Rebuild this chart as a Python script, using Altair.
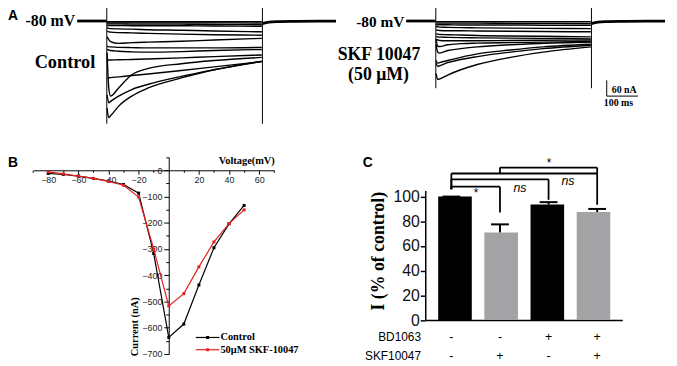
import altair as alt
import pandas as pd

# ---------------- Panel A: current traces (time in ms, current in nA) ----------------
T_STEP = [96, 101, 107, 133, 175, 228, 334, 439, 592]
STEP_ON = 95
STEP_OFF = 594
PRE_T = [0, 95]
PRE_I = [0, 0]
POST_T = [594, 603, 615, 640, 700, 830]
POST_I = [-10, -7, -4, -2, -1, 0]
TRANSIENT_TOP = 56
CONTROL_TRANSIENT_BOTTOM = -390
SKF_TRANSIENT_BOTTOM = -255

CONTROL_TRACES = [
    [-3, -3, -3, -3, -3, -3, -3, -3, -3],
    [-7, -7, -7, -7, -7, -7, -7, -7, -8],
    [-11, -11, -11, -11, -12, -12, -12, -13, -14],
    [-16, -17, -17, -17, -18, -18, -18, -19, -20],
    [-25, -28, -29, -30, -31, -33, -35, -38, -41],
    [-38, -41, -42, -44, -45, -47, -50, -52, -54],
    [-60, -70, -78, -85, -82, -80, -77, -72, -66],
    [-95, -98, -98, -100, -101, -102, -102, -102, -100],
    [-108, -110, -112, -115, -117, -118, -116, -112, -108],
    [-148, -148, -148, -147, -146, -144, -140, -135, -129],
    [-216, -216, -215, -212, -207, -201, -188, -174, -154],
    [-120, -250, -285, -254, -204, -180, -162, -150, -138],
    [-280, -310, -305, -285, -260, -240, -210, -185, -152],
    [-330, -366, -360, -323, -285, -254, -216, -185, -154],
]

SKF_TRACES = [
    [-3, -3, -3, -3, -3, -3, -3, -3, -3],
    [-8, -8, -8, -8, -8, -8, -9, -9, -10],
    [-14, -14, -14, -14, -15, -15, -15, -16, -16],
    [-22, -22, -23, -24, -25, -26, -27, -28, -29],
    [-35, -35, -36, -37, -37, -38, -39, -40, -41],
    [-48, -50, -51, -52, -53, -55, -57, -58, -60],
    [-58, -60, -61, -62, -63, -64, -65, -66, -68],
    [-68, -72, -74, -75, -75, -75, -74, -73, -72],
    [-70, -95, -97, -90, -86, -84, -82, -80, -78],
    [-90, -118, -122, -112, -105, -98, -90, -85, -80],
    [-150, -160, -158, -150, -138, -125, -110, -98, -88],
    [-160, -172, -170, -158, -146, -135, -118, -105, -92],
    [-200, -222, -220, -205, -185, -165, -138, -118, -98],
]

SCALEBAR_T = 643
SCALEBAR_I = -285
SCALEBAR_MS = 100
SCALEBAR_NA = 60

# ---------------- Panel B: I-V curve ----------------
VOLTAGE = [-80, -70, -60, -50, -40, -30, -20, -10, 0, 10, 20, 30, 40, 50]
I_CONTROL = [-12, -16, -22, -31, -41, -54, -87, -317, -637, -586, -437, -295, -204, -134]
I_SKF = [-6, -14, -22, -31, -42, -57, -102, -300, -517, -470, -368, -273, -203, -151]
SERIES = ["Control", "50\u03bcM SKF-10047"]

# ---------------- Panel C: bar chart ----------------
BAR_POS = [0, 1, 2, 3]
BD1063 = ["-", "-", "+", "+"]
SKF10047 = ["-", "+", "-", "+"]
MEAN = [100, 71, 93.5, 87.5]
SEM = [0, 6.5, 2, 2.5]
# comparisons: (from bar, to bar, bracket level, left leg end, right leg end, label)
COMPARISONS = [
    (0, 1, 108.0, 105.9, 87.2, "*"),
    (0, 2, 113.9, 105.9, 97.4, "ns"),
    (0, 3, 118.7, 105.9, 93.4, "ns"),
    (1, 3, 123.5, 118.7, 118.7, "*"),
]
LABEL_POS = [(0.51, 102.5), (1.41, 107.0), (2.40, 112.4), (2.01, 127.0)]


def sc(domain, rng):
    return alt.Scale(domain=domain, range=rng, nice=False, zero=False)


SX_AL = sc([0, 830], [70, 332])
SX_AR = sc([0, 830], [403, 665])
SY_A = sc([-420, 40], [123, 0.333])
SX_B = sc([-90, 70], [25.45, 269.45])
SY_B = sc([-700, 50], [348, 148.8])
SX_C = sc([-0.537, 3.516], [422.3, 621.7])
SY_C = sc([0, 105], [313.7, 182.45])
SY_BR = sc([0, 130], [313.7, 151.2])


def traces_df(traces):
    rows = []
    for k, tr in enumerate(traces):
        for t, i in zip(T_STEP, tr):
            rows.append({"trace": k, "t": t, "i": i})
    return pd.DataFrame(rows)


def baseline_df():
    rows = [{"seg": "pre", "t": t, "i": i} for t, i in zip(PRE_T, PRE_I)]
    rows += [{"seg": "post", "t": t, "i": i} for t, i in zip(POST_T, POST_I)]
    return pd.DataFrame(rows)


def transient_df(bottom):
    return pd.DataFrame([
        {"t": STEP_ON, "top": TRANSIENT_TOP, "bottom": bottom},
        {"t": STEP_OFF, "top": TRANSIENT_TOP, "bottom": bottom},
    ])


def trace_panel(traces, bottom, sx):
    lines = alt.Chart(traces_df(traces)).mark_line(
        color="black", strokeWidth=1.4, interpolate="monotone"
    ).encode(
        x=alt.X("t:Q", scale=sx, axis=None),
        y=alt.Y("i:Q", scale=SY_A, axis=None),
        detail="trace:N",
    )
    base = alt.Chart(baseline_df()).mark_line(
        color="black", strokeWidth=2.8, interpolate="monotone"
    ).encode(
        x=alt.X("t:Q", scale=sx, axis=None),
        y=alt.Y("i:Q", scale=SY_A, axis=None),
        detail="seg:N",
    )
    trans = alt.Chart(transient_df(bottom)).mark_rule(color="black", strokeWidth=1).encode(
        x=alt.X("t:Q", scale=sx, axis=None),
        y=alt.Y("top:Q", scale=SY_A, axis=None),
        y2="bottom:Q",
    )
    return [base, lines, trans]


def label(text, x, y, size, font="Liberation Serif", weight="bold", align="left",
          angle=0, style="normal"):
    return alt.Chart(pd.DataFrame({"label": [text]})).mark_text(
        font=font, fontSize=size, fontWeight=weight, align=align, baseline="middle",
        angle=angle, fontStyle=style, color="black",
    ).encode(text="label:N", x=alt.value(x), y=alt.value(y))


layers = []

# ---- Panel A ----
layers += trace_panel(CONTROL_TRACES, CONTROL_TRANSIENT_BOTTOM, SX_AL)
layers += trace_panel(SKF_TRACES, SKF_TRANSIENT_BOTTOM, SX_AR)

scalebar = pd.DataFrame([
    {"t": SCALEBAR_T, "t2": SCALEBAR_T, "i": SCALEBAR_I, "i2": SCALEBAR_I + SCALEBAR_NA},
    {"t": SCALEBAR_T, "t2": SCALEBAR_T + SCALEBAR_MS, "i": SCALEBAR_I, "i2": SCALEBAR_I},
])
layers.append(
    alt.Chart(scalebar).mark_rule(color="black", strokeWidth=1).encode(
        x=alt.X("t:Q", scale=SX_AR, axis=None), x2="t2:Q",
        y=alt.Y("i:Q", scale=SY_A, axis=None), y2="i2:Q",
    )
)

layers += [
    label("A", 0, 6, 14, font="Liberation Sans"),
    label("-80 mV", 68, 11, 16, align="right"),
    label("Control", 27, 53, 18.5),
    label("-80 mV", 401, 12, 15.5, align="right"),
    label("SKF 10047", 375.5, 45, 18, align="center"),
    label("(50 \u03bcM)", 375, 66, 18, align="center"),
    label("60 nA", 611, 81, 10),
    label("100 ms", 603, 94, 10),
]

# ---- Panel B ----
df_ctrl = pd.DataFrame({"v": VOLTAGE, "i": I_CONTROL})
df_skf = pd.DataFrame({"v": VOLTAGE, "i": I_SKF})

major_x = alt.Axis(orient="bottom", offset=-195.9, values=[-80, -60, -40, -20, 20, 40, 60],
                   tickSize=4, labelFontSize=9, labelPadding=1, labelFlush=False,
                   domainWidth=1, tickWidth=1, title=None, labelColor="#222")
major_y = alt.Axis(orient="left", offset=-162.7, values=[0, -100, -200, -300, -400, -500, -600, -700],
                   tickSize=5, labelFontSize=9, labelPadding=2, labelFlush=False,
                   domainWidth=1, tickWidth=1, title=None, labelColor="#222")
minor_x = alt.Axis(orient="bottom", offset=-195.9, values=[-90, -70, -50, -30, -10, 10, 30, 50, 70],
                   tickSize=2, labels=False, domain=False, tickWidth=1, title=None)
minor_y = alt.Axis(orient="left", offset=-162.7,
                   values=[50, -50, -150, -250, -350, -450, -550, -650],
                   tickSize=3, labels=False, domain=False, tickWidth=1, title=None)

layers.append(
    alt.Chart(df_ctrl).mark_line(color="black", strokeWidth=1.2).encode(
        x=alt.X("v:Q", scale=SX_B, axis=major_x),
        y=alt.Y("i:Q", scale=SY_B, axis=major_y),
    )
)
layers.append(
    alt.Chart(df_ctrl).mark_point(shape="square", filled=True, size=9, color="black", opacity=1).encode(
        x=alt.X("v:Q", scale=SX_B, axis=None),
        y=alt.Y("i:Q", scale=SY_B, axis=None),
    )
)
layers.append(
    alt.Chart(df_skf).mark_line(color="#e3211d", strokeWidth=1.2).encode(
        x=alt.X("v:Q", scale=SX_B, axis=minor_x),
        y=alt.Y("i:Q", scale=SY_B, axis=minor_y),
    )
)
layers.append(
    alt.Chart(df_skf).mark_point(shape="square", filled=True, size=9, color="#e3211d", opacity=1).encode(
        x=alt.X("v:Q", scale=SX_B, axis=None),
        y=alt.Y("i:Q", scale=SY_B, axis=None),
    )
)

# legend
for name, color, yy in [(SERIES[0], "black", 331.3), (SERIES[1], "#e3211d", 343.7)]:
    layers.append(
        alt.Chart(pd.DataFrame({"s": [name]})).mark_rule(color=color, strokeWidth=1.2).encode(
            x=alt.value(190), x2=alt.value(214), y=alt.value(yy)
        )
    )
    layers.append(
        alt.Chart(pd.DataFrame({"s": [name]})).mark_point(
            shape="square", filled=True, size=9, color=color, opacity=1
        ).encode(x=alt.value(202), y=alt.value(yy))
    )
    layers.append(label(name, 215, yy, 10.5))

layers += [
    label("B", 0, 155, 14, font="Liberation Sans"),
    label("Voltage(mV)", 270, 152.7, 10.5, align="right"),
    label("Current (nA)", 129, 320.5, 10.5, align="center", angle=270),
]

# ---- Panel C ----
df_bar = pd.DataFrame({
    "pos": BAR_POS, "mean": MEAN, "sem": SEM, "bd": BD1063, "skf": SKF10047,
})
df_bar["base"] = 0
df_bar["top"] = df_bar["mean"] + df_bar["sem"]
df_bar["cap_l"] = df_bar["pos"] - 0.183
df_bar["cap_r"] = df_bar["pos"] + 0.183

axis_cx = alt.Axis(orient="bottom", offset=-44.3, labels=False, ticks=False,
                   domainWidth=1.5, title=None)
axis_cy = alt.Axis(orient="left", offset=-422.3, values=[0, 20, 40, 60, 80, 100],
                   tickSize=5, tickWidth=1.5, domainWidth=1.5, labelFontSize=16,
                   labelPadding=1, labelFlush=False, title=None, labelColor="#111")

layers.append(
    alt.Chart(df_bar).mark_bar(size=34).encode(
        x=alt.X("pos:Q", scale=SX_C, axis=axis_cx),
        y=alt.Y("mean:Q", scale=SY_C, axis=axis_cy),
        y2="base:Q",
        color=alt.Color("skf:N", scale=alt.Scale(domain=["-", "+"], range=["#000000", "#a3a3a6"]),
                        legend=None),
    )
)
layers.append(
    alt.Chart(df_bar).mark_rule(color="black", strokeWidth=2).encode(
        x=alt.X("pos:Q", scale=SX_C, axis=None),
        y=alt.Y("mean:Q", scale=SY_C, axis=None),
        y2="top:Q",
    )
)
layers.append(
    alt.Chart(df_bar).mark_rule(color="black", strokeWidth=2).encode(
        x=alt.X("cap_l:Q", scale=SX_C, axis=None),
        x2="cap_r:Q",
        y=alt.Y("top:Q", scale=SY_C, axis=None),
    )
)

seg_rows = []
for a, b, h, le, re_, lab in COMPARISONS:
    seg_rows.append({"x": a, "x2": b, "y": h, "y2": h})
    seg_rows.append({"x": a, "x2": a, "y": h, "y2": le})
    seg_rows.append({"x": b, "x2": b, "y": h, "y2": re_})
layers.append(
    alt.Chart(pd.DataFrame(seg_rows)).mark_rule(color="black", strokeWidth=1.8).encode(
        x=alt.X("x:Q", scale=SX_C, axis=None), x2="x2:Q",
        y=alt.Y("y:Q", scale=SY_BR, axis=None), y2="y2:Q",
    )
)

lab_df = pd.DataFrame({
    "x": [p[0] for p in LABEL_POS],
    "y": [p[1] for p in LABEL_POS],
    "lab": [c[5] for c in COMPARISONS],
})
layers.append(
    alt.Chart(lab_df[lab_df["lab"] == "*"]).mark_text(
        font="Liberation Sans", fontSize=12, baseline="middle", align="center", color="black"
    ).encode(
        x=alt.X("x:Q", scale=SX_C, axis=None),
        y=alt.Y("y:Q", scale=SY_BR, axis=None),
        text="lab:N",
    )
)
layers.append(
    alt.Chart(lab_df[lab_df["lab"] == "ns"]).mark_text(
        font="Liberation Sans", fontSize=12.5, fontStyle="italic", baseline="middle",
        align="center", color="black"
    ).encode(
        x=alt.X("x:Q", scale=SX_C, axis=None),
        y=alt.Y("y:Q", scale=SY_BR, axis=None),
        text="lab:N",
    )
)

for field, yy in [("bd", 331), ("skf", 350)]:
    layers.append(
        alt.Chart(df_bar).mark_text(
            font="Liberation Sans", fontSize=12.5, baseline="middle", align="center", color="black"
        ).encode(
            x=alt.X("pos:Q", scale=SX_C, axis=None),
            y=alt.value(yy),
            text=f"{field}:N",
        )
    )

layers += [
    label("C", 359, 155, 14, font="Liberation Sans"),
    label("I (% of control)", 376, 244, 18, align="center", angle=270),
    label("BD1063", 418, 331, 12, font="Liberation Sans", weight="normal", align="right"),
    label("SKF10047", 418, 350, 12, font="Liberation Sans", weight="normal", align="right"),
]

chart = alt.layer(*layers).resolve_scale(
    x="independent", y="independent"
).properties(
    width=669, height=358, padding=0,
    autosize=alt.AutoSizeParams(type="none"),
).configure_view(stroke=None).configure_axis(
    grid=False, domainColor="black", tickColor="black", labelFont="Liberation Sans"
)

chart.save("out.html", embed_options={"renderer": "svg", "actions": False})
